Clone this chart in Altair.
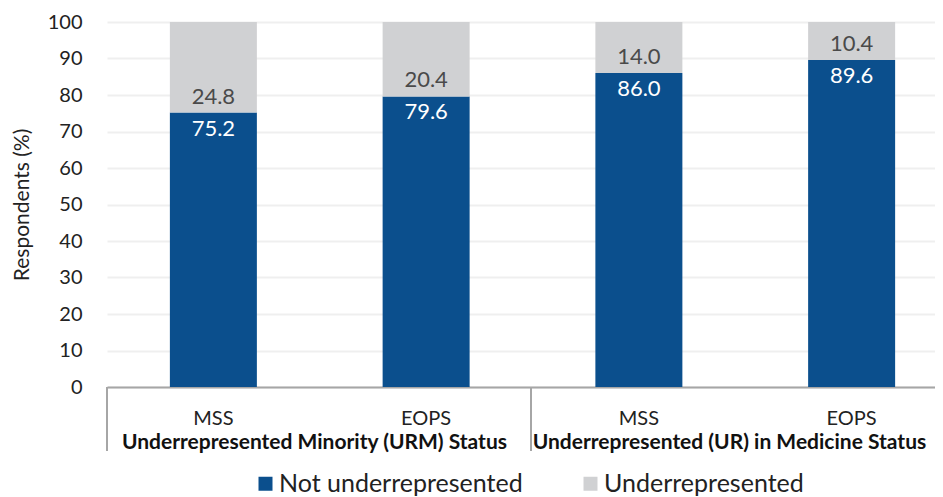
import altair as alt
import pandas as pd

# ---- data ----
groups = ["Underrepresented Minority (URM) Status", "Underrepresented Minority (URM) Status",
          "Underrepresented (UR) in Medicine Status", "Underrepresented (UR) in Medicine Status"]
surveys = ["MSS", "EOPS", "MSS", "EOPS"]
not_under = [75.2, 79.6, 86.0, 89.6]
under = [24.8, 20.4, 14.0, 10.4]
series = ["Not underrepresented", "Underrepresented"]
colors = ["#0B4F8D", "#D0D1D3"]
y_ticks = [0, 10, 20, 30, 40, 50, 60, 70, 80, 90, 100]

keys = [f"{g}|{s}" for g, s in zip(groups, surveys)]
group_order = list(dict.fromkeys(groups))

wide = pd.DataFrame({"key": keys, "group": groups, "survey": surveys,
                     "not_under": not_under, "under": under})
long_rows = []
for k, a, b in zip(keys, not_under, under):
    long_rows.append({"key": k, "series": series[0], "value": a, "ord": 0})
    long_rows.append({"key": k, "series": series[1], "value": b, "ord": 1})
long = pd.DataFrame(long_rows)
gdf = pd.DataFrame({"group": group_order})

W, H = 828, 365
FONT = "Lato"
TXT = "#222222"

# category band scale: the original panel runs a little past the right edge of the picture
xscale = alt.Scale(paddingInner=0, paddingOuter=0, range=[0, 851])
xaxis = alt.Axis(labelExpr="split(datum.label, '|')[1]", ticks=False,
                 domainColor="#A6A6A6", domainWidth=2, labelFontSize=20,
                 labelColor=TXT, labelPadding=21, labelAngle=0, labelFont=FONT)
xs = alt.X("key:N", sort=keys, title=None, scale=xscale, axis=xaxis)

yaxis = alt.Axis(values=y_ticks, domain=False, ticks=False, labelOverlap=False,
                 gridColor="#EFEFEF", gridWidth=2, labelFontSize=20,
                 labelColor=TXT, labelPadding=25, labelFont=FONT,
                 titleFontSize=21, titleFontWeight="normal", titleColor=TXT,
                 titlePadding=15, titleFont=FONT)
yscale = alt.Scale(domain=[0, 100])

bars = alt.Chart(long).mark_bar(size=87).encode(
    x=xs,
    y=alt.Y("value:Q", stack="zero", scale=yscale, title="Respondents (%)", axis=yaxis),
    color=alt.Color("series:N", scale=alt.Scale(domain=series, range=colors),
                    legend=alt.Legend(title=None, orient="none", legendX=146, legendY=449,
                                      direction="horizontal", symbolType="square",
                                      symbolSize=196, symbolStrokeWidth=0,
                                      labelFontSize=25, labelColor=TXT, labelFont=FONT,
                                      labelLimit=500, labelOffset=1, columnPadding=55,
                                      padding=0)),
    order=alt.Order("ord:Q"),
)

blue_txt = alt.Chart(wide).mark_text(baseline="top", dy=6, fontSize=22, color="white",
                                     font=FONT).encode(
    x=xs,
    y=alt.Y("not_under:Q", scale=yscale, title="Respondents (%)", axis=yaxis),
    text=alt.Text("not_under:Q", format=".1f"))

gray_txt = alt.Chart(wide).mark_text(baseline="alphabetic", dy=-9, fontSize=22,
                                     color="#4A4A4A", font=FONT).encode(
    x=xs,
    y=alt.Y("not_under:Q", scale=yscale, title="Respondents (%)", axis=yaxis),
    text=alt.Text("under:Q", format=".1f"))

main = alt.layer(bars, blue_txt, gray_txt)

seps = alt.Chart(gdf).mark_rule(color="#A6A6A6", strokeWidth=2).encode(
    x=alt.X("group:N", axis=None, bandPosition=0,
            scale=alt.Scale(domain=group_order, paddingInner=0, paddingOuter=0,
                            range=[0, 848])),
    y=alt.value(H), y2=alt.value(H + 64))
glabels = alt.Chart(gdf).mark_text(fontSize=21, fontWeight="bold", color="#111111",
                                   font=FONT, baseline="middle").encode(
    x=alt.X("group:N", axis=None,
            scale=alt.Scale(domain=group_order, paddingInner=0, paddingOuter=0,
                            range=[0, 830])),
    y=alt.value(H + 56), text="group:N")

chart = alt.layer(main, seps, glabels).resolve_scale(
    x="independent"
).properties(
    width=W, height=H,
    autosize=alt.AutoSizeParams(type="none"),
    padding={"left": 99, "top": 14, "right": 0, "bottom": 110},
).configure_view(stroke=None)

chart.save("out.html", embed_options={"renderer": "svg", "actions": False})
